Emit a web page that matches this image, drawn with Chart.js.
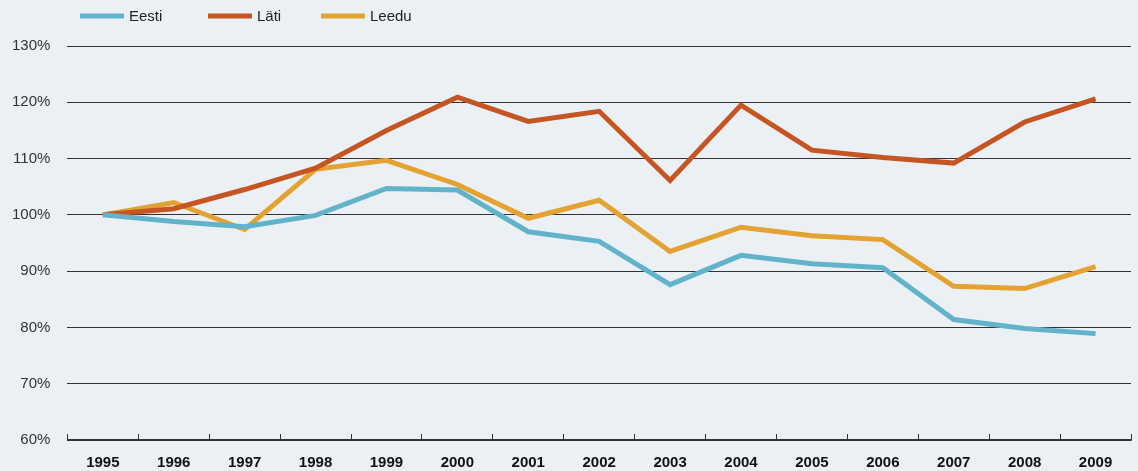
<!DOCTYPE html>
<html>
<head>
<meta charset="utf-8">
<script src="https://cdn.jsdelivr.net/npm/chart.js@4/dist/chart.umd.min.js"></script>
<style>
  html, body { margin: 0; padding: 0; background: #ebf0f4; }
  #wrap { width: 1138px; height: 471px; position: relative; }
</style>
</head>
<body>
<div id="wrap"><canvas id="c" width="1138" height="471"></canvas></div>
<script>
const years = ['1995','1996','1997','1998','1999','2000','2001','2002','2003','2004','2005','2006','2007','2008','2009'];
const eesti = [100, 98.8, 97.9, 99.9, 104.7, 104.4, 97.0, 95.3, 87.6, 92.8, 91.3, 90.6, 81.4, 79.8, 78.9];
const lati  = [100, 101.1, 104.5, 108.3, 115.0, 120.9, 116.6, 118.4, 106.1, 119.5, 111.5, 110.2, 109.2, 116.5, 120.6];
const leedu = [100, 102.2, 97.4, 108.1, 109.7, 105.4, 99.4, 102.6, 93.5, 97.8, 96.3, 95.6, 87.3, 86.9, 90.8];
const seriesNames = ['Eesti', 'Läti', 'Leedu'];
const seriesColors = ['#62b3c9', '#c55623', '#e4a232'];
const yMin = 60, yMax = 130, yStep = 10;

const FONT = '"Liberation Sans", Arial, Helvetica, sans-serif';

const topLegend = {
  id: 'topLegend',
  afterDraw(chart, args, opts) {
    const ctx = chart.ctx;
    ctx.save();
    ctx.font = '15px ' + FONT;
    ctx.textBaseline = 'middle';
    const y = 16;
    chart.data.datasets.forEach((ds, i) => {
      const x = opts.starts[i];
      ctx.fillStyle = ds.borderColor;
      ctx.fillRect(x, y - 2.5, 44, 5);
      ctx.fillStyle = '#222';
      ctx.fillText(ds.label, x + 49, y + 1);
    });
    ctx.restore();
  }
};

const datasets = [eesti, lati, leedu].map((d, i) => ({
  label: seriesNames[i],
  data: d,
  borderColor: seriesColors[i],
  backgroundColor: seriesColors[i],
  borderWidth: 5,
  pointRadius: 0,
  tension: 0,
  borderJoinStyle: 'miter',
  borderCapStyle: 'butt'
}));

new Chart(document.getElementById('c'), {
  type: 'line',
  data: { labels: years, datasets },
  plugins: [topLegend],
  options: {
    responsive: false,
    animation: false,
    layout: { padding: { top: 46, right: 7, bottom: -21, left: -5 } },
    plugins: {
      legend: { display: false },
      tooltip: { enabled: false },
      topLegend: { starts: [80, 208, 321] }
    },
    scales: {
      x: {
        offset: true,
        grid: {
          offset: true,
          drawOnChartArea: false,
          drawTicks: true,
          tickLength: -6,
          color: '#333',
          lineWidth: 1
        },
        border: { display: true, color: '#333', width: 1.5 },
        ticks: {
          color: '#111',
          font: { family: FONT, size: 15, weight: 'bold' },
          padding: 20,
          maxRotation: 0,
          autoSkip: false
        }
      },
      y: {
        min: yMin,
        max: yMax,
        grid: {
          drawTicks: false,
          color: '#333',
          lineWidth: 1
        },
        border: { display: false },
        ticks: {
          stepSize: yStep,
          color: '#333',
          font: { family: FONT, size: 15 },
          padding: 17,
          callback: v => v + '%'
        }
      }
    }
  }
});
</script>
</body>
</html>
